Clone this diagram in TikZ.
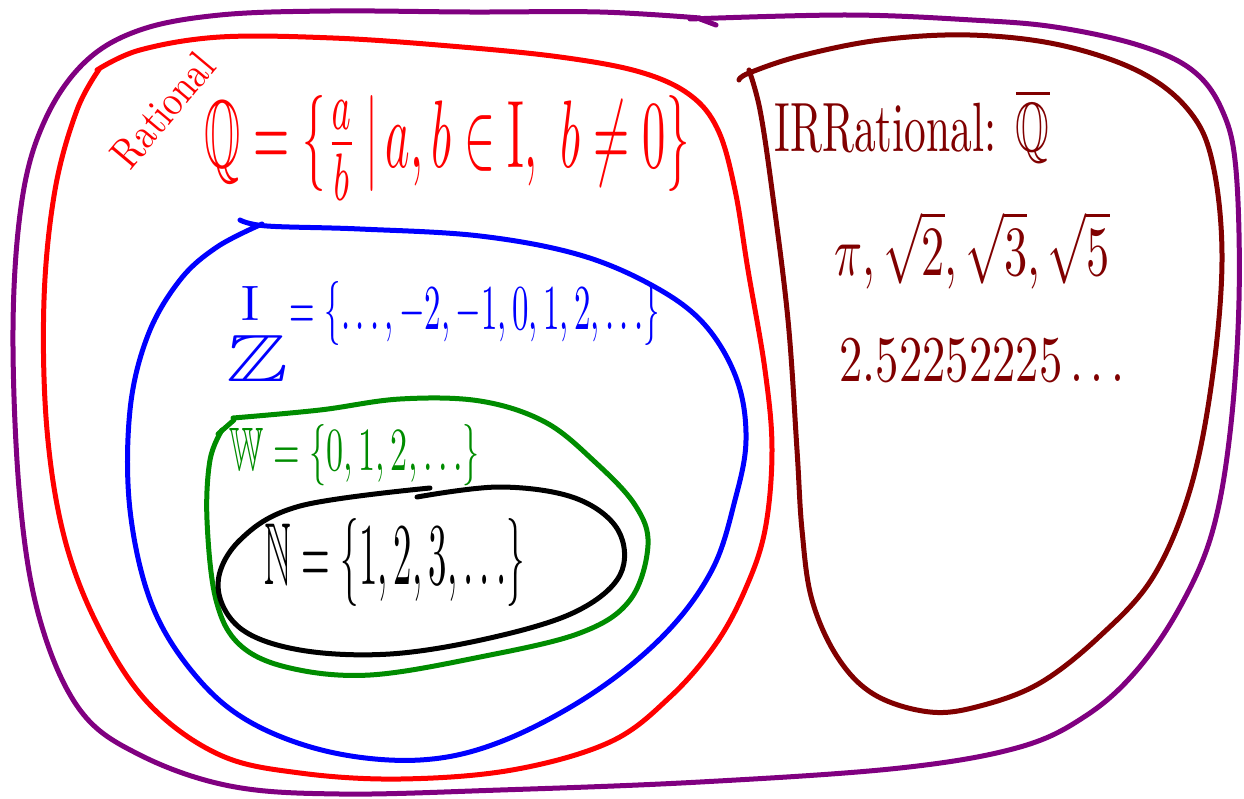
\documentclass[tikz,border=0pt]{standalone}
\usepackage{amssymb}
\usepackage{graphicx}
\definecolor{cpurple}{RGB}{128,0,128}
\definecolor{cred}{RGB}{255,0,0}
\definecolor{cblue}{RGB}{0,0,255}
\definecolor{cgreen}{RGB}{0,140,0}
\definecolor{cmaroon}{RGB}{128,0,0}
\begin{document}
\begin{tikzpicture}[x=1pt,y=-1pt,
  curve/.style={line width=5pt, line cap=round, line join=round},
  lbl/.style={inner sep=0pt, anchor=center}]
\useasboundingbox (0,0) rectangle (1244,798);
% outer purple set
\draw[curve, cpurple] plot[smooth, tension=0.6] coordinates {(690,19) (848,15) (972,20) (1055,27) (1138,45) (1192,70) (1222,110) (1236,170) (1239,300) (1230,433) (1212,533) (1180,607) (1137,670) (1087,715) (1020,747) (900,768) (700,782) (500,790) (340,794) (230,786) (140,755) (80,710) (40,620) (20,500) (13,330) (22,200) (45,120) (85,62) (140,30) (220,15) (330,11) (470,12) (600,12) (700,18)};
\draw[curve, cpurple] (700,19) -- (716,25);
% red rational
\draw[curve, cred] plot[smooth, tension=0.6] coordinates {(97,70) (140,50) (220,37) (333,38) (450,46) (560,57) (640,72) (690,95) (718,130) (735,190) (748,270) (765,370) (772,450) (765,530) (745,590) (715,645) (670,697) (610,742) (512,770) (400,779) (300,773) (220,755) (150,705) (100,630) (65,540) (47,430) (44,300) (55,190) (77,110) (100,68)};
% blue integers
\draw[curve, cblue] plot[smooth, tension=0.6] coordinates {(240,220) (267,226) (360,229) (480,236) (580,255) (655,287) (705,325) (737,380) (746,440) (735,500) (712,570) (664,635) (590,695) (500,742) (420,760) (330,752) (250,722) (195,675) (152,605) (130,510) (130,410) (148,335) (180,280) (217,247) (262,224)};
% green whole
\draw[curve, cgreen] plot[smooth, tension=0.6] coordinates {(233,418) (320,410) (400,399) (480,401) (545,422) (595,462) (635,505) (648,545) (630,600) (580,633) (480,657) (370,675) (290,668) (240,645) (216,600) (207,520) (210,460) (222,430)};
\draw[curve, cgreen] (218,434) -- (234,420);
% black natural
\draw[curve, black] plot[smooth, tension=0.6] coordinates {(417,497) (500,487) (575,498) (618,530) (620,575) (575,612) (490,638) (390,654) (300,650) (240,628) (218,585) (240,540) (300,506) (430,488)};
% maroon irrational
\draw[curve, cmaroon] plot[smooth, tension=0.6] coordinates {(739,80) (749,73) (800,56) (880,40) (970,35) (1060,45) (1140,72) (1190,112) (1213,165) (1222,260) (1212,380) (1190,490) (1153,577) (1100,636) (1040,683) (980,706) (930,712) (875,695) (838,658) (812,600) (802,530) (797,450) (788,320) (772,190) (760,110) (749,70)};
% labels
\node[lbl, text=cred, rotate=50] (rat) at (163,110) {\resizebox{135pt}{30pt}{Rational}};
\node[lbl, text=cred] (qdef) at (447,148) {\resizebox{485pt}{72pt}{$\mathbb{Q}=\{\frac{a}{b}\,|\,a,b\in \mathrm{I},\ b\neq 0\}$}};
\node[lbl, text=cblue] (iset) at (250,303) {\resizebox{!}{34pt}{$\mathrm{I}$}};
\node[lbl, text=cblue] (zset) at (258,358) {\resizebox{62pt}{46pt}{$\mathbb{Z}$}};
\node[lbl, text=cblue] (zdef) at (475,313) {\resizebox{370pt}{48pt}{$=\{\ldots,-2,-1,0,1,2,\ldots\}$}};
\node[lbl, text=cgreen] (wdef) at (355,455) {\resizebox{250pt}{46pt}{$\mathbb{W}=\{0,1,2,\ldots\}$}};
\node[lbl, text=black] (ndef) at (395,562) {\resizebox{260pt}{66pt}{$\mathbb{N}=\{1,2,3,\ldots\}$}};
\node[lbl, text=cmaroon] (irr) at (912,126) {\resizebox{275pt}{62pt}{IRRational: $\overline{\mathbb{Q}}$}};
\node[lbl, text=cmaroon] (irrex) at (972,250) {\resizebox{275pt}{64pt}{$\pi,\sqrt{2},\sqrt{3},\sqrt{5}$}};
\node[lbl, text=cmaroon] (irrdec) at (982,360) {\resizebox{285pt}{42pt}{$2.52252225\ldots$}};
\end{tikzpicture}
\end{document}
